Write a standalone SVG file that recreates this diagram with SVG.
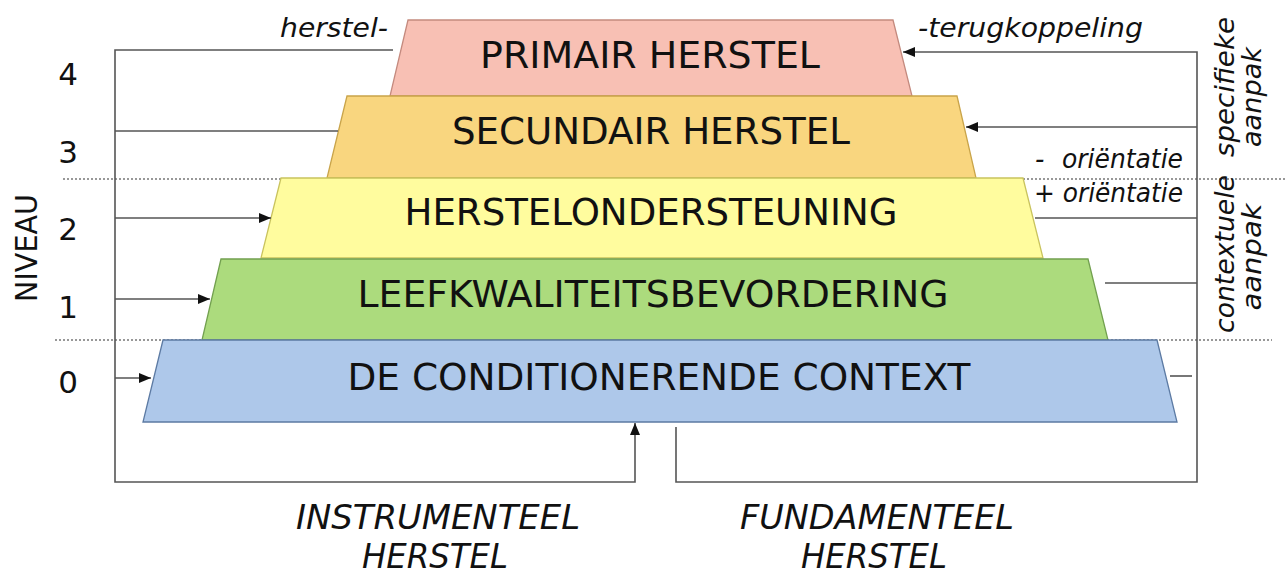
<svg xmlns="http://www.w3.org/2000/svg" width="1288" height="575" viewBox="0 0 1288 575">
<defs>
<style>
.lbl{font-family:"DejaVu Sans","Verdana",sans-serif;font-size:38px;fill:#111;text-anchor:middle}
.it{font-family:"DejaVu Sans","Verdana",sans-serif;font-style:italic;fill:#111}
.num{font-family:"DejaVu Sans","Verdana",sans-serif;font-size:31px;fill:#111;text-anchor:middle}
.ln{fill:none;stroke:#555;stroke-width:1.6}
.dot{fill:none;stroke:#777;stroke-width:1.3;stroke-dasharray:2 2}
.trap{stroke-width:1.3}
</style>
<marker id="ah" markerWidth="13" markerHeight="11" refX="12" refY="5.5" orient="auto" markerUnits="userSpaceOnUse">
<path d="M0,0.5 L12,5.5 L0,10.5 Z" fill="#111"/>
</marker>
</defs>
<rect width="1288" height="575" fill="#fff"/>
<g id="dividers">
<line class="dot" x1="63" y1="179" x2="1285" y2="179"/>
<line class="dot" x1="55" y1="340" x2="1272" y2="340"/>
</g>
<g id="level4">
<polygon class="trap" points="408,20 893,20 912,96 390,96" fill="#F8C0B4" stroke="#C48A7E"/>
<text class="lbl" x="650" y="68" textLength="340" lengthAdjust="spacingAndGlyphs">PRIMAIR HERSTEL</text>
</g>
<g id="level3">
<polygon class="trap" points="347,96 957,96 976,178 327,178" fill="#F9D67F" stroke="#C9A44A"/>
<text class="lbl" x="651" y="144" textLength="398" lengthAdjust="spacingAndGlyphs">SECUNDAIR HERSTEL</text>
</g>
<g id="level2">
<polygon class="trap" points="281,178 1023,178 1043,258 261,258" fill="#FFFC9E" stroke="#C9C35E"/>
<text class="lbl" x="651" y="225" textLength="493" lengthAdjust="spacingAndGlyphs">HERSTELONDERSTEUNING</text>
</g>
<g id="level1">
<polygon class="trap" points="221,259 1088,259 1108,340 202,340" fill="#ACDB7D" stroke="#72A04F"/>
<text class="lbl" x="653" y="307" textLength="591" lengthAdjust="spacingAndGlyphs">LEEFKWALITEITSBEVORDERING</text>
</g>
<g id="level0">
<polygon class="trap" points="163,340 1157,340 1177,422 143,422" fill="#AEC8EA" stroke="#5C7AA3"/>
<text class="lbl" x="659" y="390" textLength="623" lengthAdjust="spacingAndGlyphs">DE CONDITIONERENDE CONTEXT</text>
</g>
<g id="connectors">
<polyline class="ln" points="393,50 115,50 115,482 635,482 635,423" marker-end="url(#ah)"/>
<line class="ln" x1="115" y1="131" x2="338" y2="131"/>
<line class="ln" x1="115" y1="218" x2="271" y2="218" marker-end="url(#ah)"/>
<line class="ln" x1="115" y1="299" x2="210" y2="299" marker-end="url(#ah)"/>
<line class="ln" x1="115" y1="378" x2="151" y2="378" marker-end="url(#ah)"/>
<polyline class="ln" points="676,427 676,482 1197,482 1197,52 903,52" marker-end="url(#ah)"/>
<line class="ln" x1="1197" y1="127" x2="966" y2="127" marker-end="url(#ah)"/>
<line class="ln" x1="1035" y1="218" x2="1197" y2="218"/>
<line class="ln" x1="1105" y1="283" x2="1197" y2="283"/>
<line class="ln" x1="1170" y1="376" x2="1192" y2="376"/>
</g>
<g id="labels">
<text class="it" x="280" y="37" font-size="27" textLength="108" lengthAdjust="spacingAndGlyphs">herstel-</text>
<text class="it" x="918" y="37" font-size="27" textLength="225" lengthAdjust="spacingAndGlyphs">-terugkoppeling</text>
<text class="it" x="1035" y="168" font-size="26">-<tspan x="1062" textLength="121" lengthAdjust="spacingAndGlyphs">oriëntatie</tspan></text>
<text class="it" x="1034" y="202" font-size="26" textLength="149" lengthAdjust="spacingAndGlyphs">+ oriëntatie</text>
<text class="it" font-size="27" text-anchor="middle" transform="translate(1234,87) rotate(-90)" textLength="140" lengthAdjust="spacingAndGlyphs">specifieke</text>
<text class="it" font-size="27" text-anchor="middle" transform="translate(1261,97) rotate(-90)" textLength="100" lengthAdjust="spacingAndGlyphs">aanpak</text>
<text class="it" font-size="27" text-anchor="middle" transform="translate(1234,254) rotate(-90)" textLength="158" lengthAdjust="spacingAndGlyphs">contextuele</text>
<text class="it" font-size="27" text-anchor="middle" transform="translate(1261,257) rotate(-90)" textLength="107" lengthAdjust="spacingAndGlyphs">aanpak</text>
<text class="it" font-size="33" text-anchor="middle" x="438" y="529" textLength="284" lengthAdjust="spacingAndGlyphs">INSTRUMENTEEL</text>
<text class="it" font-size="33" text-anchor="middle" x="435" y="568" textLength="146" lengthAdjust="spacingAndGlyphs">HERSTEL</text>
<text class="it" font-size="33" text-anchor="middle" x="877" y="529" textLength="274" lengthAdjust="spacingAndGlyphs">FUNDAMENTEEL</text>
<text class="it" font-size="33" text-anchor="middle" x="874" y="568" textLength="146" lengthAdjust="spacingAndGlyphs">HERSTEL</text>
<text class="num" font-size="33" text-anchor="middle" transform="translate(37,248) rotate(-90)" textLength="108" lengthAdjust="spacingAndGlyphs">NIVEAU</text>
<text class="num" x="68" y="85">4</text>
<text class="num" x="68" y="163">3</text>
<text class="num" x="68" y="240">2</text>
<text class="num" x="68" y="318">1</text>
<text class="num" x="68" y="393">0</text>
</g>
</svg>
